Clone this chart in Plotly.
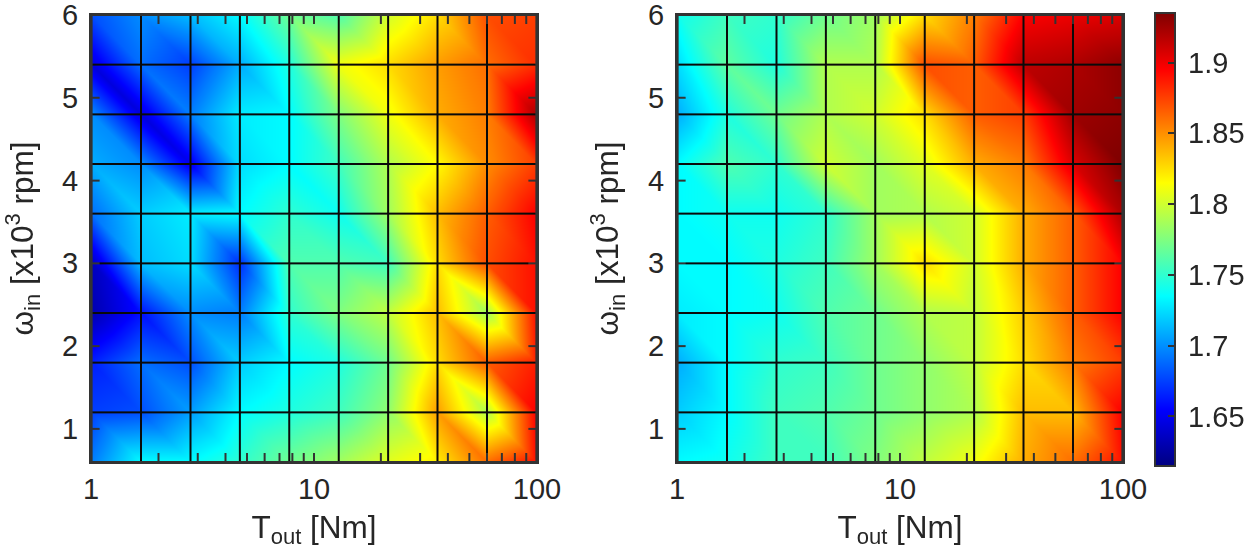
import plotly.graph_objects as go

# Sample grid shared by both maps
torque_nm = [1, 1.668, 2.783, 4.642, 7.743, 12.92, 21.54, 35.94, 59.95, 100]
speed_krpm = [6.0, 5.4, 4.8, 4.2, 3.6, 3.0, 2.4, 1.8, 1.2, 0.6]

# Left map: one row per speed, top to bottom
left_map = [
    [1.680, 1.700, 1.715, 1.735, 1.770, 1.760, 1.800, 1.825, 1.870, 1.875],
    [1.645, 1.690, 1.675, 1.710, 1.745, 1.810, 1.825, 1.845, 1.860, 1.880],
    [1.700, 1.645, 1.695, 1.730, 1.735, 1.775, 1.810, 1.840, 1.855, 1.920],
    [1.710, 1.700, 1.650, 1.725, 1.735, 1.755, 1.790, 1.815, 1.850, 1.875],
    [1.690, 1.720, 1.730, 1.735, 1.750, 1.740, 1.785, 1.835, 1.865, 1.895],
    [1.635, 1.715, 1.725, 1.670, 1.760, 1.760, 1.755, 1.825, 1.870, 1.890],
    [1.630, 1.660, 1.700, 1.695, 1.750, 1.775, 1.795, 1.835, 1.785, 1.890],
    [1.665, 1.690, 1.680, 1.720, 1.735, 1.745, 1.770, 1.825, 1.865, 1.885],
    [1.675, 1.680, 1.705, 1.735, 1.745, 1.755, 1.780, 1.845, 1.790, 1.895],
    [1.695, 1.735, 1.735, 1.750, 1.770, 1.785, 1.805, 1.820, 1.860, 1.890],
]

# Right map: same layout as the left one
right_map = [
    [1.740, 1.755, 1.750, 1.770, 1.785, 1.825, 1.855, 1.895, 1.900, 1.905],
    [1.725, 1.765, 1.745, 1.790, 1.790, 1.870, 1.865, 1.915, 1.920, 1.930],
    [1.710, 1.745, 1.770, 1.790, 1.800, 1.825, 1.865, 1.875, 1.925, 1.930],
    [1.735, 1.760, 1.750, 1.800, 1.785, 1.805, 1.840, 1.855, 1.905, 1.935],
    [1.735, 1.740, 1.740, 1.750, 1.785, 1.790, 1.800, 1.840, 1.865, 1.920],
    [1.735, 1.735, 1.745, 1.755, 1.785, 1.825, 1.800, 1.840, 1.865, 1.895],
    [1.730, 1.735, 1.740, 1.760, 1.770, 1.790, 1.795, 1.830, 1.865, 1.895],
    [1.710, 1.735, 1.750, 1.755, 1.770, 1.780, 1.795, 1.825, 1.855, 1.875],
    [1.720, 1.735, 1.755, 1.760, 1.770, 1.780, 1.790, 1.835, 1.835, 1.895],
    [1.735, 1.740, 1.755, 1.755, 1.775, 1.795, 1.810, 1.840, 1.860, 1.890],
]

x_major = [1, 10, 100]
x_minor = [2, 3, 4, 5, 6, 7, 8, 9, 20, 30, 40, 50, 60, 70, 80, 90]
y_ticks = [1, 2, 3, 4, 5, 6]
bar_ticks = [1.65, 1.7, 1.75, 1.8, 1.85, 1.9]
z_limits = (1.615, 1.935)

jet = [
    [0.0, "rgb(0,0,128)"],
    [0.125, "rgb(0,0,255)"],
    [0.375, "rgb(0,255,255)"],
    [0.625, "rgb(255,255,0)"],
    [0.875, "rgb(255,0,0)"],
    [1.0, "rgb(128,0,0)"],
]

W, H = 1250, 558
INK = "#262626"
FRAME = "#333333"
TICK_FONT = dict(family="Liberation Sans, Arial, sans-serif", size=29, color=INK)
TITLE_FONT = dict(family="Liberation Sans, Arial, sans-serif", size=31.5, color=INK)
LEFT, RIGHT, TOP, BOTTOM = 91, 127, 15, 96
PLOT_W = W - LEFT - RIGHT
PLOT_H = H - TOP - BOTTOM

n_rows, n_cols = len(speed_krpm), len(torque_nm)
x_lo, x_hi = torque_nm[0], torque_nm[-1]
y_lo, y_hi = speed_krpm[-1], speed_krpm[0]
vert_x = [t for _ in speed_krpm for t in torque_nm]
vert_y = [s for s in speed_krpm for _ in torque_nm]
# Each cell is split along its upper-left to lower-right diagonal
tri_i, tri_j, tri_k = [], [], []
for r in range(n_rows - 1):
    for c in range(n_cols - 1):
        tl = r * n_cols + c
        tri_i += [tl, tl]
        tri_j += [tl + 1, tl + n_cols]
        tri_k += [tl + n_cols + 1, tl + n_cols + 1]


def mesh_lines():
    """Grid segments drawn just above the shaded surface."""
    xs, ys = [], []
    for t in torque_nm[1:-1]:
        xs += [t, t, None]
        ys += [y_lo, y_hi, None]
    for s in speed_krpm[1:-1]:
        xs += [x_lo, x_hi, None]
        ys += [s, s, None]
    return xs, ys


def tick_lines():
    """Frame and inward tick segments on all four sides."""
    xs = [x_lo, x_hi, x_hi, x_lo, x_lo, None]
    ys = [y_lo, y_lo, y_hi, y_hi, y_lo, None]
    dy = 9 / PLOT_H * (y_hi - y_lo)
    fx = 10 ** (8 / 446 * 2)
    for t in x_major[1:-1] + x_minor:
        xs += [t, t, None, t, t, None]
        ys += [y_lo, y_lo + dy, None, y_hi - dy, y_hi, None]
    for s in y_ticks[:-1]:
        xs += [x_lo, x_lo * fx, None, x_hi / fx, x_hi, None]
        ys += [s, s, None, s, s, None]
    return xs, ys


fig = go.Figure()
panels = (("", "scene", left_map), ("2", "scene2", right_map))
for suffix, scene_id, values in panels:
    fig.add_trace(
        go.Mesh3d(
            x=vert_x,
            y=vert_y,
            z=[0] * len(vert_x),
            i=tri_i,
            j=tri_j,
            k=tri_k,
            intensity=[v for row in values for v in row],
            intensitymode="vertex",
            coloraxis="coloraxis",
            flatshading=False,
            lighting=dict(ambient=1, diffuse=0, specular=0, fresnel=0, roughness=1),
            hoverinfo="skip",
            scene=scene_id,
        )
    )
    gx, gy = mesh_lines()
    fig.add_trace(
        go.Scatter3d(x=gx, y=gy, z=[0.02 if v is not None else None for v in gx],
                     mode="lines", line=dict(color="#0a0a0a", width=4),
                     hoverinfo="skip", scene=scene_id)
    )
    tx, ty = tick_lines()
    fig.add_trace(
        go.Scatter3d(x=tx, y=ty, z=[0.02 if v is not None else None for v in tx],
                     mode="lines", line=dict(color=FRAME, width=4),
                     hoverinfo="skip", scene=scene_id)
    )
    # Carries the 2D axes and their labels around the shaded panel
    fig.add_trace(
        go.Scatter(x=[x_lo], y=[y_hi], mode="markers",
                   marker=dict(size=1, opacity=0), hoverinfo="skip",
                   xaxis="x" + suffix, yaxis="y" + suffix)
    )

x_axis = dict(
    type="log",
    range=[0, 2],
    tickmode="array",
    tickvals=x_major,
    ticktext=[str(v) for v in x_major],
    ticks="",
    ticklabeloverflow="allow",
    showline=True,
    linecolor=FRAME,
    linewidth=2,
    mirror=True,
    showgrid=False,
    zeroline=False,
    tickfont=TICK_FONT,
    fixedrange=True,
    title=dict(text="T<sub>out</sub> [Nm]", font=TITLE_FONT, standoff=12),
)
y_axis = dict(
    range=[y_lo, y_hi],
    tickmode="array",
    tickvals=y_ticks,
    ticks="outside",
    ticklen=5,
    tickcolor="rgba(0,0,0,0)",
    ticklabeloverflow="allow",
    showline=True,
    linecolor=FRAME,
    linewidth=2,
    mirror=True,
    showgrid=False,
    zeroline=False,
    tickfont=TICK_FONT,
    fixedrange=True,
    title=dict(text="ω<sub>in</sub> [x10<sup>3</sup> rpm]", font=TITLE_FONT, standoff=20),
)

hidden = dict(visible=False, showspikes=False)
scene_common = dict(
    xaxis=dict(hidden, type="log", range=[0, 2]),
    yaxis=dict(hidden, range=[y_lo, y_hi]),
    zaxis=dict(hidden, range=[-1, 1]),
    aspectmode="manual",
    aspectratio=dict(x=1.99, y=2.0, z=0.2),
    camera=dict(
        projection=dict(type="orthographic"),
        eye=dict(x=0, y=0, z=1),
        up=dict(x=0, y=1, z=0),
        center=dict(x=0, y=0, z=0),
    ),
)

dom_l = [0, 446 / PLOT_W]
dom_r = [586 / PLOT_W, 1]
fig.update_layout(
    width=W,
    height=H,
    margin=dict(l=LEFT, r=RIGHT, t=TOP, b=BOTTOM, autoexpand=False),
    paper_bgcolor="white",
    plot_bgcolor="white",
    font=TICK_FONT,
    showlegend=False,
    xaxis=dict(x_axis, domain=dom_l, anchor="y"),
    yaxis=dict(y_axis, domain=[0, 1], anchor="x"),
    xaxis2=dict(x_axis, domain=dom_r, anchor="y2"),
    yaxis2=dict(y_axis, domain=[0, 1], anchor="x2"),
    scene=dict(scene_common, domain=dict(x=dom_l, y=[0, 1])),
    scene2=dict(scene_common, domain=dict(x=dom_r, y=[0, 1])),
    coloraxis=dict(
        colorscale=jet,
        cmin=z_limits[0],
        cmax=z_limits[1],
        colorbar=dict(
            x=(1155 - LEFT) / PLOT_W,
            xanchor="left",
            xpad=0,
            y=(TOP + PLOT_H - 466) / PLOT_H,
            yanchor="bottom",
            ypad=0,
            len=453 / PLOT_H,
            lenmode="fraction",
            thickness=20,
            outlinecolor=FRAME,
            outlinewidth=2,
            ticks="inside",
            ticklen=8,
            tickwidth=2,
            tickcolor=FRAME,
            tickmode="array",
            tickvals=bar_ticks,
            ticktext=["\u2009" + str(v) for v in bar_ticks],
            tickfont=TICK_FONT,
        ),
    ),
)

fig.write_html("out.html")
